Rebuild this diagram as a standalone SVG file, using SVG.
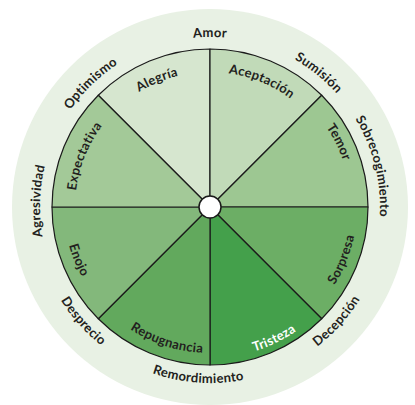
<svg xmlns="http://www.w3.org/2000/svg" xmlns:xlink="http://www.w3.org/1999/xlink" width="415" height="405" viewBox="0 0 415 405">
<style>
.sec{stroke:#1a1a1a;stroke-width:1.2;stroke-linejoin:round}
.lbl{font-family:Lato,"Open Sans","DejaVu Sans",sans-serif;font-weight:700;font-size:13px;fill:#231f20;letter-spacing:0.3px}
.w{fill:#ffffff}
</style>
<defs>
<path id="pAmor" d="M79.78,97.72 A170,170 0 0 1 340.22,97.72"/>
<path id="pSumision" d="M177.56,40.12 A170,170 0 0 1 379.97,204.03"/>
<path id="pOptimismo" d="M40.41,218.86 A170,170 0 0 1 227.77,37.93"/>
<path id="pSobre" d="M284.52,54.21 A170,170 0 0 1 347.53,306.92"/>
<path id="pAgres" d="M96.25,333.33 A170,170 0 0 1 105.34,73.04"/>
<path id="pDespre" d="M35.71,182.51 A176,176 0 0 0 216.14,382.89"/>
<path id="pRemord" d="M67.61,310.45 A176,176 0 0 0 336.60,329.26"/>
<path id="pDecep" d="M203.86,382.89 A176,176 0 0 0 384.29,182.51"/>
<path id="pAlegria" d="M81.18,166.63 A135,135 0 0 1 272.13,87.14"/>
<path id="pAcept" d="M147.25,87.47 A135,135 0 0 1 338.61,165.96"/>
<path id="pTemor" d="M242.44,69.78 A141,141 0 0 1 339.50,262.77"/>
<path id="pExpect" d="M90.80,270.38 A135,135 0 0 1 168.28,78.61"/>
<path id="pEnojo" d="M81.09,138.46 A146,146 0 0 0 164.88,345.85"/>
<path id="pRepug" d="M74.63,261.69 A146,146 0 0 0 287.37,330.82"/>
<path id="pTrist" d="M148.58,344.95 A151,151 0 0 0 356.52,243.53"/>
<path id="pSorp" d="M256.16,346.57 A147,147 0 0 0 339.43,137.31"/>
</defs>
<rect width="415" height="405" fill="#ffffff"/>
<circle cx="210" cy="207" r="198" fill="#e8f1e4"/>
<g id="sectors">
<g id="alegria"><path class="sec" fill="#d6e6cf" d="M210,207 L98.28,95.28 A158,158 0 0 1 210,49 Z"/><text class="lbl"><textPath xlink:href="#pAlegria" href="#pAlegria" startOffset="50%" text-anchor="middle">Alegría</textPath></text></g>
<g id="aceptacion"><path class="sec" fill="#c1dab8" d="M210,207 L210,49 A158,158 0 0 1 321.72,95.28 Z"/><text class="lbl"><textPath xlink:href="#pAcept" href="#pAcept" startOffset="50%" text-anchor="middle">Aceptación</textPath></text></g>
<g id="temor"><path class="sec" fill="#9dc792" d="M210,207 L321.72,95.28 A158,158 0 0 1 368,207 Z"/><text class="lbl"><textPath xlink:href="#pTemor" href="#pTemor" startOffset="50%" text-anchor="middle">Temor</textPath></text></g>
<g id="sorpresa"><path class="sec" fill="#6cae65" d="M210,207 L368,207 A158,158 0 0 1 321.72,318.72 Z"/><text class="lbl"><textPath xlink:href="#pSorp" href="#pSorp" startOffset="50%" text-anchor="middle">Sorpresa</textPath></text></g>
<g id="tristeza"><path class="sec" fill="#44a04b" d="M210,207 L321.72,318.72 A158,158 0 0 1 210,365 Z"/><text class="lbl w"><textPath xlink:href="#pTrist" href="#pTrist" startOffset="50%" text-anchor="middle">Tristeza</textPath></text></g>
<g id="repugnancia"><path class="sec" fill="#62a95d" d="M210,207 L210,365 A158,158 0 0 1 98.28,318.72 Z"/><text class="lbl"><textPath xlink:href="#pRepug" href="#pRepug" startOffset="50%" text-anchor="middle">Repugnancia</textPath></text></g>
<g id="enojo"><path class="sec" fill="#83b87b" d="M210,207 L98.28,318.72 A158,158 0 0 1 52,207 Z"/><text class="lbl"><textPath xlink:href="#pEnojo" href="#pEnojo" startOffset="50%" text-anchor="middle">Enojo</textPath></text></g>
<g id="expectativa"><path class="sec" fill="#a3c998" d="M210,207 L52,207 A158,158 0 0 1 98.28,95.28 Z"/><text class="lbl"><textPath xlink:href="#pExpect" href="#pExpect" startOffset="50%" text-anchor="middle">Expectativa</textPath></text></g>
</g>
<g id="center"><circle cx="210" cy="207" r="11" fill="#ffffff" stroke="#1a1a1a" stroke-width="1.5"/></g>
<g id="outer-labels">
<g id="amor"><text class="lbl"><textPath xlink:href="#pAmor" href="#pAmor" startOffset="50%" text-anchor="middle">Amor</textPath></text></g>
<g id="sumision"><text class="lbl"><textPath xlink:href="#pSumision" href="#pSumision" startOffset="50%" text-anchor="middle">Sumisión</textPath></text></g>
<g id="optimismo"><text class="lbl"><textPath xlink:href="#pOptimismo" href="#pOptimismo" startOffset="50%" text-anchor="middle">Optimismo</textPath></text></g>
<g id="sobrecogimiento"><text class="lbl"><textPath xlink:href="#pSobre" href="#pSobre" startOffset="50%" text-anchor="middle">Sobrecogimiento</textPath></text></g>
<g id="agresividad"><text class="lbl"><textPath xlink:href="#pAgres" href="#pAgres" startOffset="50%" text-anchor="middle">Agresividad</textPath></text></g>
<g id="desprecio"><text class="lbl"><textPath xlink:href="#pDespre" href="#pDespre" startOffset="50%" text-anchor="middle">Desprecio</textPath></text></g>
<g id="remordimiento"><text class="lbl"><textPath xlink:href="#pRemord" href="#pRemord" startOffset="50%" text-anchor="middle">Remordimiento</textPath></text></g>
<g id="decepcion"><text class="lbl"><textPath xlink:href="#pDecep" href="#pDecep" startOffset="50%" text-anchor="middle">Decepción</textPath></text></g>
</g>
</svg>
